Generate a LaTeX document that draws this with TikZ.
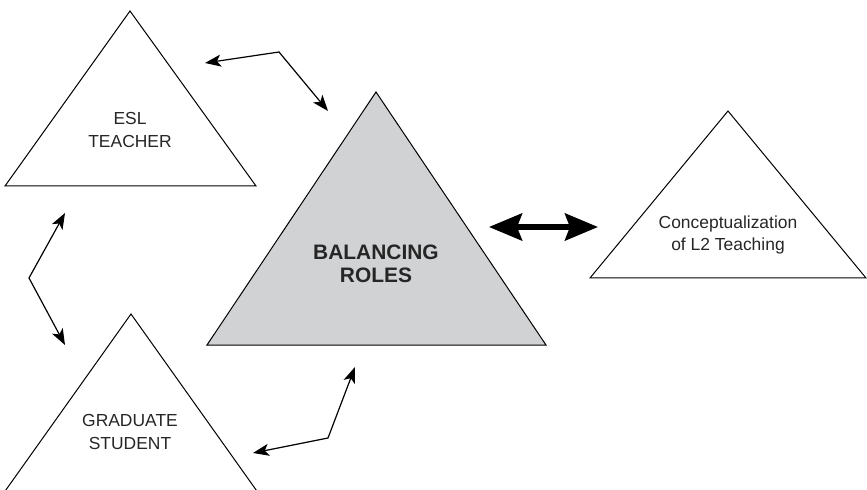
\documentclass[tikz,border=0pt]{standalone}
\usepackage{fontspec}
\setmainfont{Liberation Sans}
\usetikzlibrary{arrows.meta}
\definecolor{roleGray}{RGB}{209,210,212}
\begin{document}
\begin{tikzpicture}[x=1bp,y=-1bp,
  tri/.style={draw=black, line width=1bp, line join=miter},
  lbl/.style={align=center, inner sep=0pt, font=\fontsize{17.5}{22.5}\selectfont, text=black!85},
  blbl/.style={align=center, inner sep=0pt, font=\fontsize{21}{23}\selectfont\bfseries, text=black!85},
  link/.style={line width=1.2bp, {Stealth[length=16bp,width=12bp,inset=4bp]}-{Stealth[length=16bp,width=12bp,inset=4bp]}},
  biglink/.style={line width=5.5bp, {Stealth[length=33bp,width=27bp,inset=5bp]}-{Stealth[length=33bp,width=27bp,inset=5bp]}}]
\useasboundingbox (0,0) rectangle (867,490);
\clip (0,0) rectangle (867,490);
% triangles
\draw[tri] (130,11) -- (256,186) -- (5,186) -- cycle;
\draw[tri, fill=roleGray] (376,92) -- (546,345) -- (207,345) -- cycle;
\draw[tri] (728,111) -- (866,278) -- (590,278) -- cycle;
\draw[tri] (131,314) -- (259,494) -- (3,494) -- cycle;
% labels
\node[lbl] (esl) at (130,130) {ESL\\TEACHER};
\node[blbl] (bal) at (376,264) {BALANCING\\ROLES};
\node[lbl] (conc) at (728,235) {Conceptualization\\of L2 Teaching};
\node[lbl] (grad) at (130,432) {GRADUATE\\STUDENT};
% connector points
\coordinate (t1) at (205,63);
\coordinate (t2) at (279,52);
\coordinate (t3) at (328,111);
\coordinate (l1) at (65,213);
\coordinate (l2) at (29,278);
\coordinate (l3) at (65,345);
\coordinate (b1) at (253,453);
\coordinate (b2) at (328,438);
\coordinate (b3) at (355,367);
\coordinate (r1) at (489,227);
\coordinate (r2) at (598,227);
% connectors
\draw[link] (t1) -- (t2) -- (t3);
\draw[link] (l1) -- (l2) -- (l3);
\draw[link] (b1) -- (b2) -- (b3);
\draw[biglink] (r1) -- (r2);
\end{tikzpicture}
\end{document}
